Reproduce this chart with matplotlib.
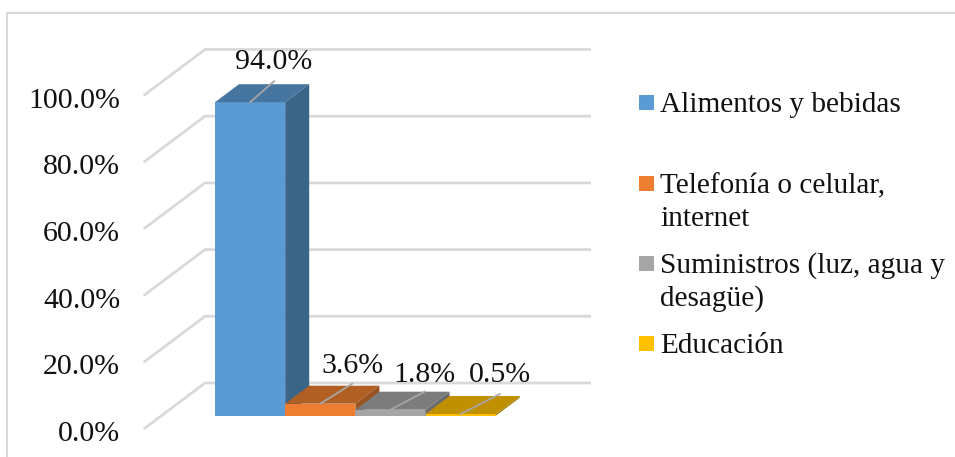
import matplotlib
matplotlib.use("Agg")
import matplotlib.pyplot as plt
from matplotlib.patches import Polygon, Rectangle
from matplotlib.lines import Line2D

plt.rcParams['font.family'] = ['Liberation Serif', 'DejaVu Serif']

categories = ["Alimentos y bebidas", "Telefonía o celular,\ninternet",
              "Suministros (luz, agua y\ndesagüe)", "Educación"]
values = [94.0, 3.6, 1.8, 0.5]
value_labels = ["94.0%", "3.6%", "1.8%", "0.5%"]
ticks = [0, 20, 40, 60, 80, 100]
tick_labels = ["0.0%", "20.0%", "40.0%", "60.0%", "80.0%", "100.0%"]
front_colors = ["#5B9BD5", "#ED7D31", "#A5A5A5", "#FFC000"]
top_colors = ["#46769F", "#B25F24", "#7C7C7C", "#C09000"]
side_colors = ["#3A6587", "#9A5220", "#6B6B6B", "#A67D00"]

W, H = 955, 457
PX_X = 70.2          # pixels per category
PX_Y = 3.335         # pixels per percentage point
X0, Y0 = 215, 415.7  # pixel position of the origin of the bars' front plane

fig = plt.figure(figsize=(W / 100, H / 100), dpi=100)
ax = fig.add_axes([0, 0, 1, 1])
ax.set_xlim(-X0 / PX_X, (W - X0) / PX_X)
ax.set_ylim(-(H - Y0) / PX_Y, Y0 / PX_Y)
ax.axis("off")

# oblique depth, in data units
DX = 24 / PX_X
DY = 18 / PX_Y
WALL_FRONT = -13.3 / 18
WALL_BACK = 32.7 / 18
WALL_LEFT = (161.4 - X0) / PX_X
WALL_RIGHT = (590 - 204) / PX_X


def project(x, y, d):
    return x + d * DX, y + d * DY


GRID = "#D9D9D9"
for t, lab in zip(ticks, tick_labels):
    p0 = project(WALL_LEFT, t, WALL_FRONT)
    p1 = project(WALL_LEFT, t, WALL_BACK)
    p2 = (p1[0] + WALL_RIGHT, p1[1])
    ax.plot([p0[0], p1[0], p2[0]], [p0[1], p1[1], p2[1]], color=GRID, lw=2.0,
            solid_capstyle="butt", solid_joinstyle="miter", zorder=1)
    ax.text((120 - X0) / PX_X, p0[1] - 1.5, lab, ha="right", va="center",
            fontsize=21.5, color="#111111", zorder=5)

# leader ends (pixels right of the bar's centre / above its front top)
leader_dx = [24, 32, 34, 39]
leader_dy = [21, 20, 18, 20]
label_gap = [19, 18, 17, 19]
for i, v in enumerate(values):
    ax.add_patch(Rectangle((i, 0), 1, v, fc=front_colors[i], ec="none", zorder=3))
    ax.add_patch(Polygon([project(i, v, 0), project(i + 1, v, 0),
                          project(i + 1, v, 1), project(i, v, 1)],
                         fc=top_colors[i], ec="none", zorder=3))
    ax.add_patch(Polygon([project(i + 1, 0, 0), project(i + 1, v, 0),
                          project(i + 1, v, 1), project(i + 1, 0, 1)],
                         fc=side_colors[i], ec="none", zorder=3))
    cx = i + 0.5
    ex = cx + leader_dx[i] / PX_X
    ey = v + leader_dy[i] / PX_Y
    ax.plot([cx, ex], [v, ey], color="#A6A6A6", lw=1.3, zorder=4)
    ax.text(ex, ey + label_gap[i] / PX_Y, value_labels[i], ha="center", va="center",
            fontsize=21.5, color="#111111", zorder=6)

# outer chart frame: only the top and left edges fall inside the picture
for xs, ys in (([7, 7], [457, 12.5]), ([7, 955], [12.5, 12.5])):
    fig.add_artist(Line2D([x / W for x in xs], [1 - y / H for y in ys],
                          color="#D9D9D9", lw=1.5))

# legend
marker_tops = [95, 176, 256, 336]
text_centers = [105, 202.5, 282, 346]
for name, color, top, cy in zip(categories, front_colors, marker_tops, text_centers):
    fig.add_artist(Rectangle((639 / W, 1 - (top + 15) / H), 15 / W, 15 / H,
                             fc=color, ec="none", transform=fig.transFigure))
    fig.text(660 / W, 1 - cy / H, name, ha="left", va="center", fontsize=21.1,
             color="#111111", linespacing=1.32)

fig.savefig("out.png", dpi=100, facecolor="white")
